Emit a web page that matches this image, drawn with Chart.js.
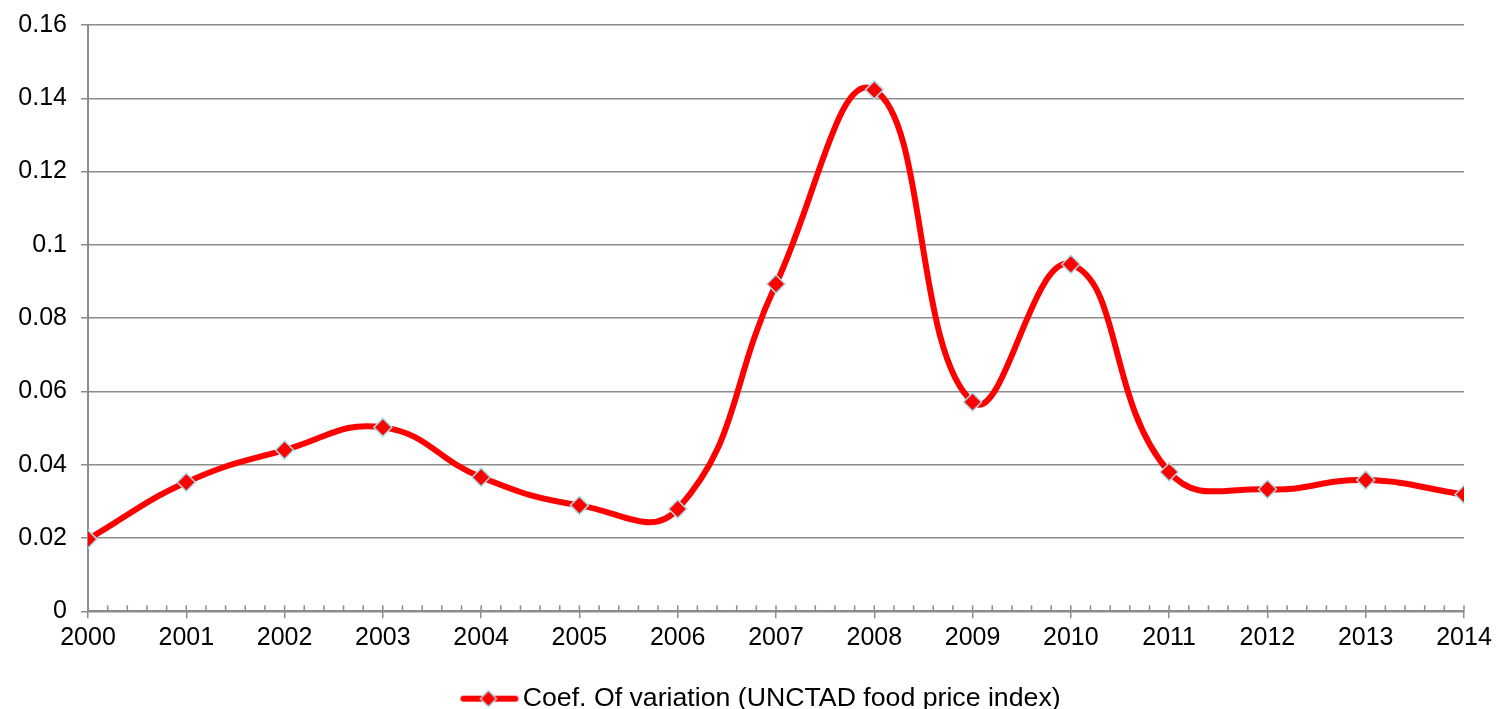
<!DOCTYPE html>
<html>
<head>
<meta charset="utf-8">
<script src="https://cdn.jsdelivr.net/npm/chart.js@4"></script>
<style>
  html, body { margin: 0; padding: 0; background: #fff; }
  #wrap { width: 1498px; height: 709px; }
</style>
</head>
<body>
<div id="wrap"><canvas id="myChart"></canvas></div>
<script>
// data
var years = [2000, 2001, 2002, 2003, 2004, 2005, 2006, 2007, 2008, 2009, 2010, 2011, 2012, 2013, 2014];
var coefValues = [0.0197, 0.0352, 0.0440, 0.0502, 0.0366, 0.0289, 0.0279, 0.0893, 0.1423, 0.0571, 0.0947, 0.0380, 0.0333, 0.0358, 0.0319];
var yTicks = [0, 0.02, 0.04, 0.06, 0.08, 0.1, 0.12, 0.14, 0.16];
var seriesLabel = 'Coef. Of variation (UNCTAD food price index)';

var red = '#ff0000';
var markerBorder = '#a8d8e0';
var axisGrey = '#8c8c8c';

// legend symbol: line with a diamond on it
// (the canvas is wider than the symbol, blank on the left, so the legend sits a bit right of centre)
function makeLegendSymbol() {
    var c = document.createElement('canvas');
    c.width = 126;
    c.height = 20;
    var ctx = c.getContext('2d');
    ctx.strokeStyle = red;
    ctx.lineWidth = 6;
    ctx.lineCap = 'round';
    ctx.beginPath();
    ctx.moveTo(70, 10);
    ctx.lineTo(122, 10);
    ctx.stroke();
    ctx.beginPath();
    ctx.moveTo(95, 2);
    ctx.lineTo(103, 10);
    ctx.lineTo(95, 18);
    ctx.lineTo(87, 10);
    ctx.closePath();
    ctx.fillStyle = red;
    ctx.fill();
    ctx.strokeStyle = markerBorder;
    ctx.lineWidth = 1.5;
    ctx.stroke();
    return c;
}

// small minor ticks on the x axis (5 per year), drawn upward from the axis
var minorTicks = {
    id: 'minorTicks',
    afterDatasetsDraw(chart) {
        var x = chart.scales.x;
        var bottom = chart.chartArea.bottom;
        var ctx = chart.ctx;
        ctx.save();
        ctx.strokeStyle = axisGrey;
        ctx.lineWidth = 1.5;
        for (var v = years[0] * 5; v <= years[years.length - 1] * 5; v++) {
            var px = x.getPixelForValue(v / 5);
            ctx.beginPath();
            ctx.moveTo(px, bottom);
            ctx.lineTo(px, bottom - 6);
            ctx.stroke();
        }
        ctx.restore();
    }
};

var points = years.map(function (yr, i) {
    return { x: yr, y: coefValues[i] };
});

Chart.defaults.font.family = '"Liberation Sans", Arial, sans-serif';
Chart.defaults.color = '#000';

var myChart = new Chart(document.getElementById('myChart'), {
    type: 'line',
    data: {
        datasets: [{
            label: seriesLabel,
            data: points,
            borderColor: red,
            borderWidth: 6,
            tension: 0.45,
            fill: false,
            pointStyle: 'rectRot',
            pointRadius: 9,
            pointHoverRadius: 9,
            pointBackgroundColor: red,
            pointBorderColor: markerBorder,
            pointBorderWidth: 1.5
        }]
    },
    options: {
        responsive: true,
        maintainAspectRatio: false,
        animation: false,
        layout: { padding: { top: 25, right: 34, left: 0, bottom: -13 } },
        plugins: {
            tooltip: { enabled: false },
            legend: {
                position: 'bottom',
                labels: {
                    usePointStyle: true,
                    pointStyle: makeLegendSymbol(),
                    pointStyleWidth: 106,
                    boxHeight: 20,
                    padding: 0,
                    font: { size: 26.7 }
                }
            }
        },
        scales: {
            x: {
                type: 'linear',
                min: 2000,
                max: 2014,
                ticks: {
                    stepSize: 1,
                    font: { size: 25 },
                    padding: 5,
                    callback: function (v) { return String(v); }
                },
                grid: {
                    drawOnChartArea: false,
                    color: axisGrey,
                    lineWidth: 1.5,
                    tickLength: 7
                },
                border: { color: axisGrey, width: 2 },
                afterFit: function (s) { s.height = 74; }
            },
            y: {
                min: 0,
                max: 0.16,
                afterBuildTicks: function (s) {
                    s.ticks = yTicks.map(function (v) { return { value: v }; });
                },
                ticks: {
                    font: { size: 25 },
                    padding: 14,
                    callback: function (v) { return String(v); }
                },
                grid: {
                    color: axisGrey,
                    lineWidth: 1.5,
                    tickLength: 7
                },
                border: { color: axisGrey, width: 2 },
                afterFit: function (s) {
                    s.width = 88;
                    s.paddingTop = 0;
                    s.paddingBottom = 0;
                }
            }
        }
    },
    plugins: [minorTicks]
});
</script>
</body>
</html>
